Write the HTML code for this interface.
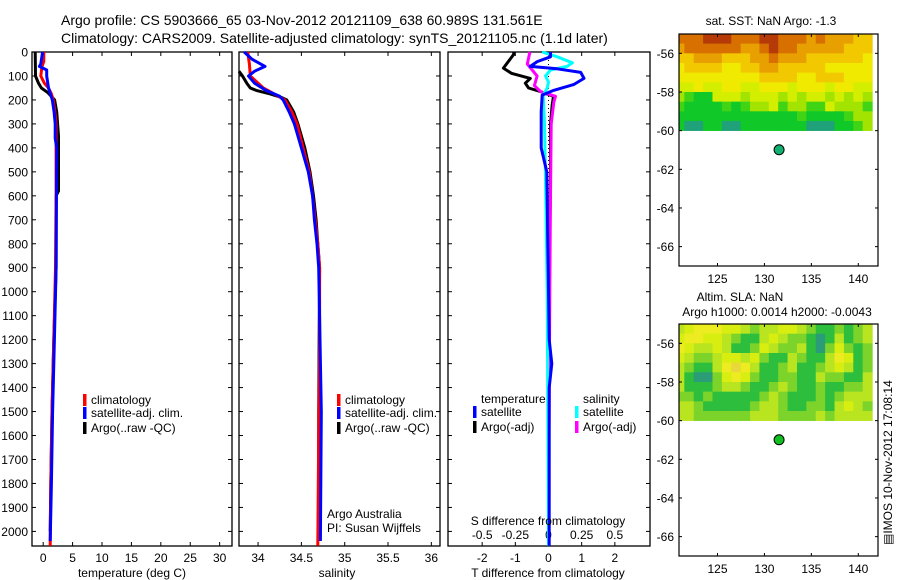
<!DOCTYPE html>
<html><head><meta charset="utf-8">
<style>
html,body{margin:0;padding:0;background:#fff;}
svg{display:block;font-family:"Liberation Sans",Arial,sans-serif;}
text{fill:#000;}
</style></head>
<body>
<svg id="fig" width="900" height="580" viewBox="0 0 900 580">
<text x="61" y="25" font-size="14">Argo profile: CS 5903666_65 03-Nov-2012 20121109_638 60.989S 131.561E</text>
<text x="61" y="43" font-size="14">Climatology: CARS2009. Satellite-adjusted climatology: synTS_20121105.nc (1.1d later)</text>
</svg>
<script>
// ---------- data ----------
const depthTicks=[0,100,200,300,400,500,600,700,800,900,1000,1100,1200,1300,1400,1500,1600,1700,1800,1900,2000];
const tempTicks=[0,5,10,15,20,25,30];
const salTicks=[34,34.5,35,35.5,36];
const tdiffTicks=[-2,-1,0,1,2];
const sdiffTicks=[-0.5,-0.25,0,0.25,0.5];
const sdiffTickLabels=["-0.5","-0.25","0","0.25","0.5"];

const tClimD=[0,40,60,100,130,150,175,200,250,300,400,600,900,1200,1500,1800,2060];
const tClimV=[0.1,0.1,-0.2,-0.4,0.2,0.9,1.4,1.7,2.0,2.2,2.2,2.2,2.1,1.8,1.5,1.3,1.2];
const tSatD=[0,50,60,75,100,150,200,250,300,360,400,900,1200,1500,1800,2040];
const tSatV=[-0.1,-0.4,-0.65,0.6,0.6,0.9,1.55,1.85,2.05,2.05,2.3,2.2,1.9,1.6,1.4,1.2];
const tArgoD=[0,100,130,150,170,200,250,350,580,600,900,1200,1500,1800,2000];
const tArgoV=[-1.35,-1.3,-0.8,-0.3,0.8,1.95,2.3,2.6,2.6,2.2,2.2,1.8,1.5,1.3,1.2];

const sClimD=[0,50,100,150,170,200,250,300,400,500,600,700,800,900,1200,1600,2060];
const sClimV=[33.88,33.9,33.91,34.06,34.16,34.31,34.39,34.45,34.52,34.59,34.63,34.66,34.69,34.71,34.71,34.7,34.69];
const sSatD=[0,30,60,80,100,130,160,185,200,250,300,400,500,600,700,800,900,1500,2040];
const sSatV=[33.84,33.93,34.08,33.96,33.89,33.96,34.09,34.25,34.29,34.36,34.42,34.5,34.58,34.63,34.65,34.68,34.7,34.73,34.72];
const sArgoD=[80,100,130,150,160,175,190,200,250,300,400,500,600,700,800,900,1500,2000];
const sArgoV=[33.78,33.82,33.87,33.91,33.98,34.14,34.27,34.33,34.41,34.46,34.54,34.6,34.64,34.67,34.69,34.71,34.7,34.7];

const dTArgoD=[0,10,67,89,110,130,150,165,185,220,300,500,900,2000];
const dTArgoV=[-1.05,-1.05,-1.36,-1.12,-0.55,-0.7,-0.6,-0.24,0.15,0.11,0.06,0.06,0.03,0.0];
const dTSatD=[0,20,40,60,70,85,110,135,160,180,250,400,500,1200,1300,1400,2060];
const dTSatV=[0.06,0.06,-0.34,-0.55,0.26,0.97,1.07,0.77,0.15,-0.19,-0.22,-0.22,-0.05,0.02,0.1,0.02,0.02];
const dSSatD=[0,20,45,60,75,100,125,150,180,300,600,1000,2060];
const dSSatV=[-0.048,0.066,0.18,0.14,0.015,-0.023,0,-0.01,-0.04,-0.03,-0.02,-0.01,0];
const dSArgoD=[0,50,100,140,165,185,210,300,600,1000,2000];
const dSArgoV=[-0.14,-0.16,-0.086,-0.106,-0.06,0.053,0.04,0.02,0.015,0.01,0.0];

const mapLonTicks=[125,130,135,140];
const mapLatTicks=[-56,-58,-60,-62,-64,-66];
const argoLon=131.561, argoLat=-60.989;
const sstRows=[
"888999888998887877766",
"788888877898877777666",
"667776667787776666665",
"566665566776666655555",
"555555555666655666555",
"445445544555455545544",
"321144434443434434343",
"211112123342332243332",
"111111111111121111233",
"100110011111110001123"];
const slaRows=[
"345554432334432112123",
"455443211343221013123",
"543343112432231024212",
"432234434211321135412",
"321135653112311234312",
"310024542112211322113",
"311123321123211211223",
"221211111232111212333",
"332111112332112213432",
"332222223332222323333"];
const sstColors=["#1fa27a","#10c828","#40d414","#a2e400","#d4ee00","#f0ea00","#f2c800","#e8a000","#d87000","#b53a08"];
const slaColors=["#2a9c78","#2cbe3c","#7cd42a","#b8e420","#d8ee10","#ecec20","#e8d83a"];

// ---------- drawing ----------
const svg=document.getElementById('fig');
const NS="http://www.w3.org/2000/svg";
function mk(tag,attrs,parent){const e=document.createElementNS(NS,tag);for(const k in attrs)e.setAttribute(k,attrs[k]);(parent||svg).appendChild(e);return e;}
const PT=52, PB=546;
const FS=12;
const yD=d=>PT+d*0.2397;
function xLin(x0,x1,v0,v1){return v=>x0+(v-v0)*(x1-x0)/(v1-v0);}
const xT=xLin(32,232,-1.9,32.1);
const xS=xLin(239,440,33.78,36.1);
const xDT=xLin(448,650,-3.03,3.06);
const xDS=v=>xDT(v*4);

function panel(name,x0,x1){
  const g=mk('g',{});
  
  
  const r=mk('rect',{x:x0,y:PT,width:x1-x0,height:PB-PT,fill:'none',stroke:'#000','stroke-width':1.3},g);
  
  
  depthTicks.forEach(d=>{
    mk('line',{x1:x0,x2:x0+4,y1:yD(d),y2:yD(d),stroke:'#000'},g);
    mk('line',{x1:x1,x2:x1-4,y1:yD(d),y2:yD(d),stroke:'#000'},g);
  });
  return g;
}
function xticks(g,scale,vals,labels,name,inY){
  vals.forEach((v,i)=>{
    const x=scale(v);
    mk('line',{x1:x,x2:x,y1:PT,y2:PT+4,stroke:'#000'},g);
    mk('line',{x1:x,x2:x,y1:PB,y2:PB-4,stroke:'#000'},g);
    const t=mk('text',{x:x,y:inY||562,'font-size':FS,'text-anchor':'middle'},g);
    t.textContent=labels?labels[i]:String(v);
    
    
  });
}
function series(g,scale,D,V,color,name,w){
  const pts=D.map((d,i)=>scale(V[i]).toFixed(1)+','+yD(d).toFixed(1)).join(' ');
  const p=mk('polyline',{points:pts,fill:'none',stroke:color,'stroke-width':w||3,'stroke-linejoin':'round'},g);
  
  
}
function label(g,x,y,txt,name,size,anchor){
  const t=mk('text',{x:x,y:y,'font-size':size||FS,'text-anchor':anchor||'start'},g);
  t.textContent=txt;
  
  
  return t;
}
function legend(g,x,y,color,txt,name){
  const b=mk('rect',{x:x,y:y-10,width:3.5,height:12,fill:color},g);
  
  
  label(g,x+8,y,txt,name);
}

const gy=mk('g',{});


depthTicks.forEach(d=>label(gy,28,yD(d)+4.5,String(d),'depth-tick-label',FS,'end'));

const g1=panel('temperature-panel',32,232);
xticks(g1,xT,tempTicks,null,'temperature');
series(g1,xT,tArgoD,tArgoV,'#000','temperature-argo-line');
series(g1,xT,tClimD,tClimV,'#f00','temperature-climatology-line');
series(g1,xT,tSatD,tSatV,'#00f','temperature-satellite-line');
label(g1,132,577,'temperature (deg C)','temperature-axis-title',FS,'middle');
legend(g1,83,404,'#f00','climatology','temp-legend-climatology');
legend(g1,83,417,'#00f','satellite-adj. clim.','temp-legend-satellite');
legend(g1,83,432,'#000','Argo(..raw -QC)','temp-legend-argo');

const g2=panel('salinity-panel',239,440);
xticks(g2,xS,salTicks,null,'salinity');
series(g2,xS,sArgoD,sArgoV,'#000','salinity-argo-line');
series(g2,xS,sClimD,sClimV,'#f00','salinity-climatology-line');
series(g2,xS,sSatD,sSatV,'#00f','salinity-satellite-line');
label(g2,337,577,'salinity','salinity-axis-title',FS,'middle');
legend(g2,337,404,'#f00','climatology','sal-legend-climatology');
legend(g2,337,417,'#00f','satellite-adj. clim.','sal-legend-satellite');
legend(g2,337,432,'#000','Argo(..raw -QC)','sal-legend-argo');
label(g2,327,518,'Argo Australia','credit-argo-australia');
label(g2,327,532,'PI: Susan Wijffels','credit-pi');

const g3=panel('difference-panel',448,650);
xticks(g3,xDT,tdiffTicks,null,'t-difference');
sdiffTicks.forEach((v,i)=>label(g3,xDS(v),539,sdiffTickLabels[i],'s-difference-tick-label',FS,'middle'));
const zl=mk('line',{x1:xDT(0),x2:xDT(0),y1:PT,y2:PB,stroke:'#000','stroke-dasharray':'1,3'},g3);


series(g3,xDT,dTArgoD,dTArgoV,'#000','t-diff-argo-line');
series(g3,xDS,dSArgoD,dSArgoV,'#f0f','s-diff-argo-line');
series(g3,xDS,dSSatD,dSSatV,'#0ff','s-diff-satellite-line');
series(g3,xDT,dTSatD,dTSatV,'#00f','t-diff-satellite-line');
label(g3,548,525,'S difference from climatology','s-difference-axis-title',FS,'middle');
label(g3,548,577,'T difference from climatology','t-difference-axis-title',FS,'middle');
label(g3,481,403,'temperature','diff-legend-temperature-header');
label(g3,583,403,'salinity','diff-legend-salinity-header');
legend(g3,473,416,'#00f','satellite','diff-legend-t-satellite');
legend(g3,473,431,'#000','Argo(-adj)','diff-legend-t-argo');
legend(g3,575,416,'#0ff','satellite','diff-legend-s-satellite');
legend(g3,575,431,'#f0f','Argo(-adj)','diff-legend-s-argo');

function map(name,top,rows,colors,dotColor){
  const L=679,R=878,B=top+232;
  const xm=xLin(L,R,120.9,142.1);
  const ym=v=>top+(-55-v)*19.33;
  const g=mk('g',{});
  
  
  const cw=(xm(142)-xm(121))/21;
  rows.forEach((row,ri)=>{
    for(let ci=0;ci<row.length;ci++){
      const lon=121+ci, lat=-55-ri*0.5;
      const x0=Math.max(L,xm(lon)-cw/2-0.3), x1=Math.min(R,xm(lon)+cw/2+0.3);
      const c=mk('rect',{x:x0,y:ym(lat),width:x1-x0,height:ym(lat-0.5)-ym(lat)+0.3,fill:colors[+row[ci]]},g);
      
      
    }
  });
  const f=mk('rect',{x:L,y:top,width:R-L,height:B-top,fill:'none',stroke:'#000','stroke-width':1.2},g);
  
  
  mapLonTicks.forEach(v=>{
    mk('line',{x1:xm(v),x2:xm(v),y1:top,y2:top+3,stroke:'#000'},g);
    mk('line',{x1:xm(v),x2:xm(v),y1:B,y2:B-3,stroke:'#000'},g);
    label(g,xm(v),B+17,String(v),name+'-lon-tick-label',FS,'middle');
  });
  mapLatTicks.forEach(v=>{
    mk('line',{x1:L,x2:L+3,y1:ym(v),y2:ym(v),stroke:'#000'},g);
    mk('line',{x1:R,x2:R-3,y1:ym(v),y2:ym(v),stroke:'#000'},g);
    label(g,674,ym(v)+4.5,String(v),name+'-lat-tick-label',FS,'end');
  });
  const d=mk('circle',{cx:xm(argoLon),cy:ym(argoLat),r:5,fill:dotColor,stroke:'#000','stroke-width':1},g);
  
  
  return g;
}
const m1=map('sst-map',34,sstRows,sstColors,'#10b070');
label(m1,771,25,'sat. SST: NaN Argo: -1.3','sst-map-title',FS,'middle');
const m2=map('sla-map',324,slaRows,slaColors,'#10c020');
label(m2,740,301,'Altim. SLA: NaN','sla-map-title',FS,'middle');
label(m2,777,316,'Argo h1000: 0.0014 h2000: -0.0043','sla-map-subtitle',FS,'middle');

const st=mk('text',{x:0,y:0,'font-size':FS,transform:'translate(892,545) rotate(-90)'});
st.textContent='\u25A4IMOS 10-Nov-2012 17:08:14';


</script>
</body></html>
